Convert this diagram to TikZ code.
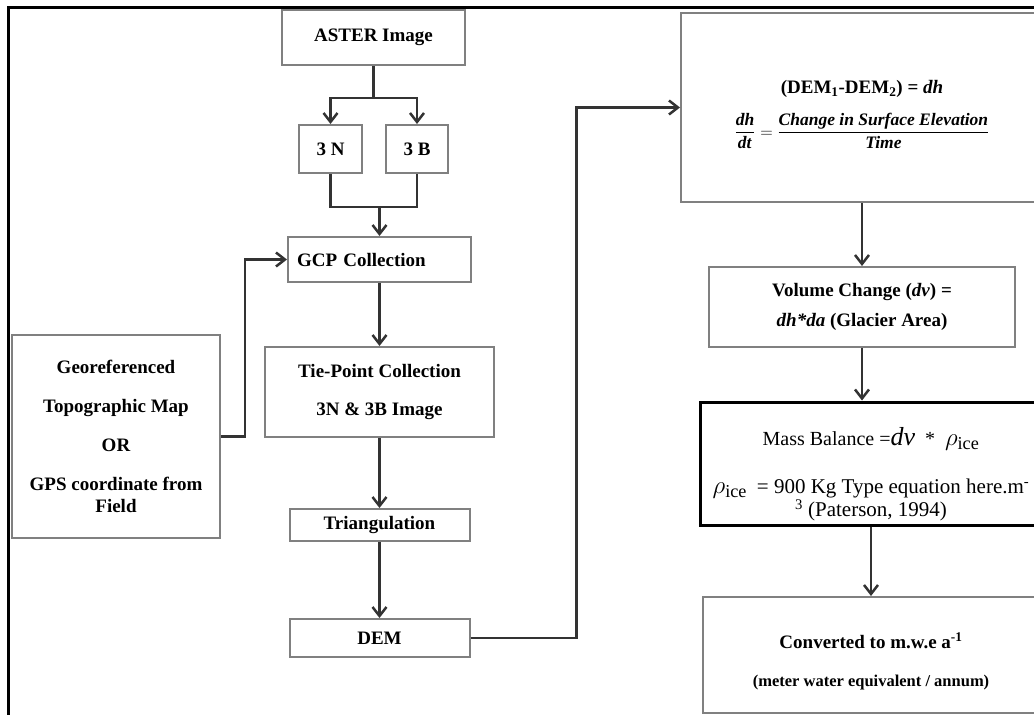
\documentclass[tikz,border=0pt]{standalone}
\usepackage{fontspec}
\setmainfont{Liberation Serif}
\usetikzlibrary{arrows.meta}
\definecolor{boxgray}{RGB}{128,128,128}
\definecolor{linegray}{RGB}{51,51,51}

\begin{document}
\begin{tikzpicture}[
	x=1pt, y=-1pt,
	font=\fontsize{19}{22}\selectfont\bfseries,
	box/.style={rectangle, draw=boxgray, line width=2pt, align=center, inner sep=0pt},
	mbox/.style={box, draw=black, line width=3pt, font=\fontsize{20}{22}\selectfont},
	ln/.style={draw=linegray, line width=2.5pt},
	arr/.style={ln, -{Straight Barb[length=9pt,width=14pt]}},
	]
\useasboundingbox (0,0) rectangle (1034,715);
\draw[line width=3pt] (8,717) -- (8,7) -- (1036,7);

\node[box, minimum width=183pt, minimum height=55pt] (aster) at (373.5,37.5) {ASTER Image};
\node[box, minimum width=63pt, minimum height=48pt] (n3) at (330.5,149) {3 N};
\node[box, minimum width=62pt, minimum height=48pt] (b3) at (417,149) {3 B};
\node[box, minimum width=183pt, minimum height=45pt, text width=165pt, align=left] (gcp) at (379.5,259.5) {GCP Collection};
\node[box, minimum width=229pt, minimum height=90pt] (tie) at (379.5,392) {Tie-Point Collection\\[17pt]3N \& 3B Image};
\node[box, minimum width=180pt, minimum height=32pt] (tri) at (379.5,525) {Triangulation};
\node[box, minimum width=180pt, minimum height=38pt] (dem) at (379.5,638) {DEM};
\node[box, minimum width=208pt, minimum height=203pt] (geo) at (116,436.5) {Georeferenced\\[17pt]Topographic Map\\[17pt]OR\\[17pt]GPS coordinate from\\Field};

\node[box, minimum width=362pt, minimum height=189pt] (dh) at (862,107.5) {\rule{0pt}{28pt}(DEM\textsubscript{1}-DEM\textsubscript{2}) = \textit{dh}\\[14pt]{\fontsize{17.5}{18}\selectfont$\displaystyle\frac{\mbox{\textit{dh}}}{\mbox{\textit{dt}}}=\frac{\mbox{\textit{Change in Surface Elevation}}}{\mbox{\textit{Time}}}$}};
\node[box, minimum width=306pt, minimum height=80pt] (vol) at (862,307) {Volume Change (\textit{dv}) =\\[8pt]\textit{dh*da} (Glacier Area)};
\node[mbox, minimum width=342pt, minimum height=123pt] (mass) at (871,463.5) {\rule{0pt}{40pt}Mass Balance =\mbox{\fontsize{26}{26}\selectfont\itshape dv}\ \ *\ \ {\fontsize{26}{26}\selectfont$\rho_{\mathrm{ice}}$}\\[26pt]{\fontsize{26}{26}\selectfont$\rho_{\mathrm{ice}}$}\ \ {\fontsize{21}{22}\selectfont= 900 Kg Type equation here.m\textsuperscript{-}}\\{\fontsize{21}{22}\selectfont\textsuperscript{3} (Paterson, 1994)}};
\node[box, minimum width=337pt, minimum height=116pt] (conv) at (871,655) {\rule{0pt}{28pt}Converted to m.w.e a\textsuperscript{-1}\\[16pt]{\fontsize{16.5}{18}\selectfont(meter water equivalent / annum)}};

\coordinate (split) at (373.5,98);
\coordinate (join) at (379.5,207);
\draw[ln] (aster) -- (split);
\draw[arr] (split) -| (n3);
\draw[arr] (split) -| (b3);
\draw[ln] (n3) |- (join) -| (b3);
\draw[arr] (join) -- (gcp);
\draw[arr] (gcp) -- (tie);
\draw[arr] (tie) -- (tri);
\draw[arr] (tri) -- (dem);
\draw[arr] (geo.east) -- ++(24,0) |- (gcp.west);
\draw[arr] (dem.east) -- ++(106,0) |- (dh.west);
\draw[arr] (dh) -- (vol);
\draw[arr] (vol.south) -- (vol.south |- mass.north);
\draw[arr] (mass) -- (conv);
\end{tikzpicture}
\end{document}
